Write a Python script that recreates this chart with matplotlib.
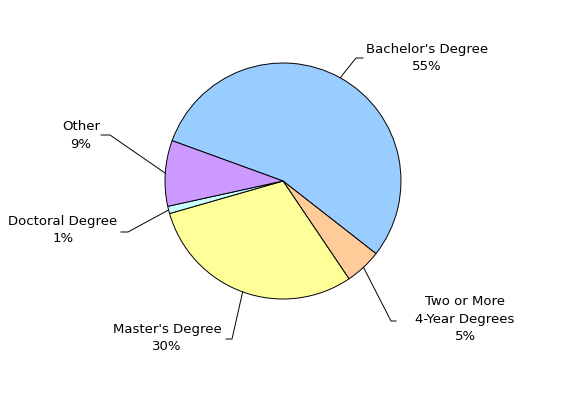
import numpy as np
import matplotlib
matplotlib.use("Agg")
import matplotlib.pyplot as plt

categories = ["Bachelor's Degree", "Two or More\n4-Year Degrees", "Master's Degree", "Doctoral Degree", "Other"]
values = [55, 5, 30, 1, 9]
colors = ["#99CCFF", "#FFCC99", "#FFFF99", "#CCFFFF", "#CC99FF"]

W, H = 588, 407
fig = plt.figure(figsize=(W / 100, H / 100), dpi=100)
ax = fig.add_axes([0, 0, 1, 1])
ax.set_xlim(0, W)
ax.set_ylim(0, H)
ax.set_aspect("equal")
ax.axis("off")

cx, cy, r = 283, H - 181, 118
wedges, _ = ax.pie(values, colors=colors, startangle=160, counterclock=False,
                   center=(cx, cy), radius=r,
                   wedgeprops=dict(edgecolor="black", linewidth=0.7))
ax.set_xlim(0, W)
ax.set_ylim(0, H)

# layout: (elbow start, elbow end, text anchor x, text top y) in pixel coords (y from top)
layout = [
    ((356, 58), (363, 58), 427, 43),
    ((391, 321), (396, 321), 465, 295),
    ((232, 339), (226, 339), 167, 323),
    ((128, 232), (121, 232), 63, 215),
    ((110, 135), (101, 135), 81, 120),
]

for w, cat, val, (e1, e2, tx, ty) in zip(wedges, categories, values, layout):
    mid = np.deg2rad((w.theta1 + w.theta2) / 2)
    px, py = cx + r * np.cos(mid), cy + r * np.sin(mid)
    ax.plot([px, e1[0], e2[0]], [py, H - e1[1], H - e2[1]], color="black", lw=0.7)
    ax.text(tx, H - ty, f"{cat}\n{val}%", ha="center", va="top", fontsize=9.5,
            family="DejaVu Sans", linespacing=1.45)

fig.savefig("out.png", dpi=100)
